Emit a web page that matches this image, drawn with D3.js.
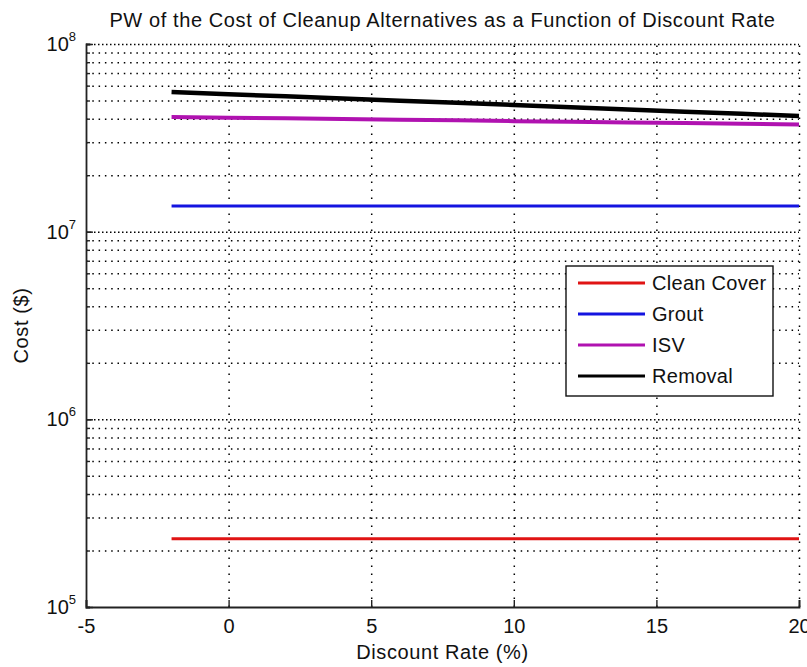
<!DOCTYPE html>
<html>
<head>
<meta charset="utf-8">
<script src="https://cdn.jsdelivr.net/npm/d3@7"></script>
<style>
  body { margin: 0; background: #fff; }
  text { font-family: "Liberation Sans", Arial, sans-serif; fill: #111; }
</style>
</head>
<body>
<script>
// chart data
var rates = [-2, 0, 2, 4, 6, 8, 10, 12, 14, 16, 18, 20];
var cleanCover = [2.31e5, 2.31e5, 2.31e5, 2.31e5, 2.31e5, 2.31e5, 2.31e5, 2.31e5, 2.31e5, 2.31e5, 2.31e5, 2.31e5];
var grout = [1.37e7, 1.37e7, 1.37e7, 1.37e7, 1.37e7, 1.37e7, 1.37e7, 1.37e7, 1.37e7, 1.37e7, 1.37e7, 1.37e7];
var isv = [4.08e7, 4.05e7, 4.02e7, 3.98e7, 3.95e7, 3.92e7, 3.88e7, 3.85e7, 3.82e7, 3.79e7, 3.76e7, 3.73e7];
var removal = [5.55e7, 5.40e7, 5.26e7, 5.12e7, 4.99e7, 4.86e7, 4.73e7, 4.60e7, 4.48e7, 4.36e7, 4.25e7, 4.13e7];
var seriesNames = ["Clean Cover", "Grout", "ISV", "Removal"];
var xTicks = [-5, 0, 5, 10, 15, 20];
var yDecades = [5, 6, 7, 8];

var w = 807, h = 667;
var pLeft = 86, pRight = 799, pTop = 44, pBottom = 607;
var colors = ["#e01414", "#1414e0", "#b012b0", "#000000"];
var widths = [3, 3, 4, 4.5];

var svg = d3.select("body").append("svg")
    .attr("width", w)
    .attr("height", h);

var x = d3.scaleLinear().domain([-5, 20]).range([pLeft, pRight]);
var y = d3.scaleLog().domain([1e5, 1e8]).range([pBottom, pTop]);

// all grid values inside the decades (2..9 x 10^d plus the decades)
var minorVals = [];
yDecades.forEach(function(d) {
    for (var k = 1; k <= 9; k++) {
        var v = k * Math.pow(10, d);
        if (v > 1e5 && v <= 1e8) minorVals.push(v);
    }
});
var majorVals = yDecades.map(function(d) { return Math.pow(10, d); });

// horizontal dotted grid
var gy = svg.append("g")
    .attr("transform", "translate(" + pLeft + ",0)")
    .call(d3.axisLeft(y).tickValues(minorVals).tickSize(-(pRight - pLeft)).tickFormat(""));
gy.select(".domain").remove();
gy.selectAll(".tick line")
    .attr("stroke", "#000")
    .attr("stroke-width", 1.5)
    .attr("stroke-dasharray", function(d) {
        return majorVals.indexOf(d) >= 0 ? "1.5,2.5" : "1.5,4.8";
    });

// vertical dotted grid
var gx = svg.append("g")
    .attr("transform", "translate(0," + pBottom + ")")
    .call(d3.axisBottom(x).tickValues(xTicks.filter(function(d) { return d > -5; }))
        .tickSize(-(pBottom - pTop)).tickFormat(""));
gx.select(".domain").remove();
gx.selectAll(".tick line")
    .attr("stroke", "#000")
    .attr("stroke-width", 1.5)
    .attr("stroke-dasharray", "1.5,6.5");

// series lines
var allSeries = [cleanCover, grout, isv, removal];
var line = d3.line()
    .x(function(d, i) { return x(rates[i]); })
    .y(function(d) { return y(d); });

allSeries.forEach(function(s, i) {
    svg.append("path")
        .datum(s)
        .attr("d", line)
        .attr("fill", "none")
        .attr("stroke", colors[i])
        .attr("stroke-width", widths[i]);
});

// left axis: inward minor and major ticks
var axL = svg.append("g")
    .attr("transform", "translate(" + pLeft + ",0)")
    .call(d3.axisLeft(y).tickValues(minorVals).tickSize(-4).tickFormat(""));
axL.select(".domain").attr("stroke", "#222").attr("stroke-width", 1.8);
axL.selectAll(".tick line").attr("stroke", "#222").attr("stroke-width", 1.4);
svg.append("g")
    .attr("transform", "translate(" + pLeft + ",0)")
    .call(d3.axisLeft(y).tickValues(majorVals).tickSize(-7).tickFormat(""))
    .call(function(g) {
        g.select(".domain").remove();
        g.selectAll(".tick line").attr("stroke", "#222").attr("stroke-width", 1.4);
    });

// y tick labels 10^d
majorVals.forEach(function(v, i) {
    var t = svg.append("text")
        .attr("x", 76)
        .attr("y", y(v) + 7)
        .attr("text-anchor", "end")
        .attr("font-size", 20);
    t.append("tspan").text("10");
    t.append("tspan").attr("font-size", 13).attr("dy", -10).text(yDecades[i]);
});

// bottom axis
var axB = svg.append("g")
    .attr("transform", "translate(0," + pBottom + ")")
    .call(d3.axisBottom(x).tickValues(xTicks).tickSize(-7).tickPadding(12)
        .tickFormat(function(d) { return String(d); }));
axB.select(".domain").attr("stroke", "#222").attr("stroke-width", 1.8);
axB.selectAll(".tick line").attr("stroke", "#222").attr("stroke-width", 1.4);
axB.selectAll(".tick text")
    .attr("font-size", 20)
    .attr("font-family", "Liberation Sans, Arial, sans-serif")
    .attr("fill", "#111");

// title and axis labels
svg.append("text")
    .attr("x", (pLeft + pRight) / 2)
    .attr("y", 27)
    .attr("text-anchor", "middle")
    .attr("font-size", 20)
    .attr("letter-spacing", 0.6)
    .text("PW of the Cost of Cleanup Alternatives as a Function of Discount Rate");

svg.append("text")
    .attr("x", (pLeft + pRight) / 2)
    .attr("y", 659)
    .attr("text-anchor", "middle")
    .attr("font-size", 20)
    .attr("letter-spacing", 0.6)
    .text("Discount Rate (%)");

svg.append("text")
    .attr("transform", "translate(28," + (pTop + pBottom) / 2 + ") rotate(-90)")
    .attr("text-anchor", "middle")
    .attr("font-size", 20)
    .attr("letter-spacing", 0.6)
    .text("Cost ($)");

// legend
var legend = svg.append("g").attr("transform", "translate(566,266)");
legend.append("rect")
    .attr("width", 207)
    .attr("height", 130)
    .attr("fill", "#fff")
    .attr("stroke", "#111")
    .attr("stroke-width", 1.4);

var rowY = d3.scalePoint().domain(seriesNames).range([17, 110]);
seriesNames.forEach(function(name, i) {
    legend.append("line")
        .attr("x1", 12).attr("x2", 79)
        .attr("y1", rowY(name)).attr("y2", rowY(name))
        .attr("stroke", colors[i])
        .attr("stroke-width", 3);
    legend.append("text")
        .attr("x", 86)
        .attr("y", rowY(name) + 7)
        .attr("font-size", 20)
        .attr("letter-spacing", 0.3)
        .text(name);
});
</script>
</body>
</html>
